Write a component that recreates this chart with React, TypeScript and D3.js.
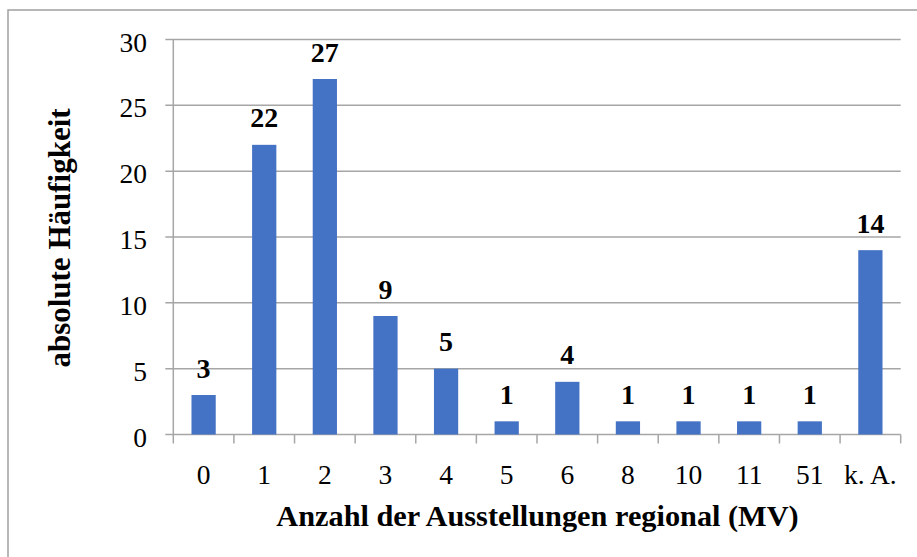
import React from "react";
import * as d3 from "d3";

const categories = ["0", "1", "2", "3", "4", "5", "6", "8", "10", "11", "51", "k. A."];
const values = [3, 22, 27, 9, 5, 1, 4, 1, 1, 1, 1, 14];
const yTicks = [0, 5, 10, 15, 20, 25, 30];
const xTitle = "Anzahl der Ausstellungen regional (MV)";
const yTitle = "absolute Häufigkeit";

const W = 917;
const H = 557;
const left = 173.3;
const right = 900.7;
const top = 39.5;
const bottom = 434.5;
const font = "'Liberation Serif', 'Times New Roman', serif";
const gridColor = "#A6A6A6";

export default function App() {
  const x = d3.scaleBand<string>().domain(categories).range([left, right]).paddingInner(0.6).paddingOuter(0.3);
  const y = d3.scaleLinear().domain([0, 30]).range([bottom, top]);
  const step = (right - left) / categories.length;

  return (
    <svg width={W} height={H} style={{ position: "absolute", left: 0, top: 0, background: "#fff" }}>
      <rect x={8} y={10} width={W + 20} height={H + 20} fill="#fff" stroke="#A0A0A0" strokeWidth={1.5} />
      {yTicks.map((t) => (
        <g key={t}>
          <line x1={left - 8} x2={right} y1={y(t)} y2={y(t)} stroke={gridColor} strokeWidth={1.5} />
          <text x={147} y={y(t) + 12} textAnchor="end" fontFamily={font} fontSize={27.5} fill="#000">
            {t}
          </text>
        </g>
      ))}
      <line x1={left} x2={left} y1={top} y2={bottom} stroke={gridColor} strokeWidth={1.5} />
      {d3.range(categories.length + 1).map((i) => (
        <line key={i} x1={left + i * step} x2={left + i * step} y1={bottom} y2={bottom + 9} stroke={gridColor} strokeWidth={1.5} />
      ))}
      {categories.map((c, i) => (
        <g key={c}>
          <rect x={x(c)} y={y(values[i])} width={x.bandwidth()} height={bottom - y(values[i])} fill="#4472C4" />
          <text x={(x(c) as number) + x.bandwidth() / 2} y={y(values[i]) - 17.5} textAnchor="middle" fontFamily={font} fontWeight="bold" fontSize={28} fill="#000">
            {values[i]}
          </text>
          <text x={(x(c) as number) + x.bandwidth() / 2} y={484} textAnchor="middle" fontFamily={font} fontSize={27.5} fill="#000">
            {c}
          </text>
        </g>
      ))}
      <text x={537.5} y={526} textAnchor="middle" fontFamily={font} fontWeight="bold" fontSize={30.3} fill="#000">
        {xTitle}
      </text>
      <text transform={`translate(70,238) rotate(-90)`} textAnchor="middle" fontFamily={font} fontWeight="bold" fontSize={31} fill="#000">
        {yTitle}
      </text>
    </svg>
  );
}
